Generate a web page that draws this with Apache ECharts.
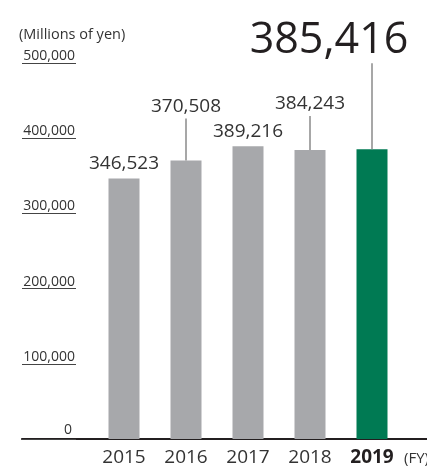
<!DOCTYPE html>
<html>
<head>
<meta charset="utf-8">
<script src="https://cdn.jsdelivr.net/npm/echarts@6/dist/echarts.min.js"></script>
<style>
html,body{margin:0;padding:0;background:#fff}
#main{width:427px;height:466px}
</style>
</head>
<body>
<div id="main"></div>
<script>
var years = ['2015', '2016', '2017', '2018', '2019'];
var sales = [346523, 370508, 389216, 384243, 385416];
var yMax = 500000, yStep = 100000;
var unitText = '(Millions of yen)';
var fyText = '(FY)';

// value label placement (px): lift above bar, leader line length, sideways shift
var lift = [5, 44, 5, 37, 87];
var leader = [0, 42, 0, 34, 86];
var shift = [0, 0, 0, 0, -43];
var font = 'Open Sans';

function fmt(v) {
	return Number(v).toLocaleString('en-US');
}

var myChart = echarts.init(document.getElementById('main'));

var last = years.length - 1;
var barData = sales.map(function(v, i) {
	var big = i == last;
	return {
		value: v,
		itemStyle: { color: big ? '#007a53' : '#a7a8ab' },
		label: {
			distance: lift[i],
			offset: [shift[i], 0],
			fontSize: big ? 43 : 19,
			lineHeight: big ? 43 : 19,
			color: big ? '#231f20' : '#333'
		}
	};
});

option = {
	animation: false,
	textStyle: { fontFamily: font },
	grid: [
		{ left: 22, right: 0, top: 63, bottom: 27, outerBoundsMode: 'none' },
		{ left: 93, right: 24, top: 63, bottom: 27, outerBoundsMode: 'none' }
	],
	xAxis: [{
		gridIndex: 0,
		type: 'value',
		min: 0,
		max: 1,
		axisLine: { show: true, lineStyle: { color: '#231f20', width: 2.2 } },
		axisTick: { show: false },
		axisLabel: { show: false },
		splitLine: { show: false }
	}, {
		gridIndex: 1,
		type: 'category',
		data: years,
		axisLine: { show: false },
		axisTick: { show: false },
		axisLabel: {
			interval: 0,
			fontSize: 19,
			color: '#333',
			margin: 9,
			formatter: function(v, i) {
				return i == last ? '{b|' + v + '}' : v;
			},
			rich: { b: { fontSize: 19, fontWeight: 'bold', color: '#231f20' } }
		},
		name: fyText,
		nameLocation: 'end',
		nameGap: 1,
		nameTextStyle: { fontSize: 15, color: '#333', verticalAlign: 'top', padding: [12, 0, 0, 0] }
	}],
	yAxis: [{
		gridIndex: 0,
		type: 'value',
		min: 0,
		max: yMax,
		interval: yStep,
		axisLine: { show: false },
		axisTick: { show: true, inside: true, length: 54, lineStyle: { color: '#444', width: 1.2 } },
		axisLabel: {
			inside: true,
			align: 'right',
			verticalAlign: 'bottom',
			margin: 53,
			fontSize: 14,
			lineHeight: 14,
			color: '#333',
			formatter: function(v) {
				return v == 0 ? '{z|0}' : fmt(v);
			},
			rich: { z: { fontSize: 14, lineHeight: 14, color: '#333', padding: [0, 3, 4, 0] } }
		},
		splitLine: { show: false },
		name: unitText,
		nameLocation: 'end',
		nameGap: 21,
		nameTextStyle: { fontSize: 14.5, color: '#333', align: 'left', padding: [0, 0, 0, -3] }
	}, {
		gridIndex: 1,
		type: 'value',
		min: 0,
		max: yMax,
		show: false
	}],
	series: [{
		type: 'bar',
		xAxisIndex: 1,
		yAxisIndex: 1,
		barWidth: '50%',
		data: barData,
		label: {
			show: true,
			position: 'top',
			formatter: function(p) { return fmt(p.value); }
		},
		emphasis: { disabled: true },
		z: 2
	}, {
		// leader lines from bar top up to the lifted labels
		type: 'custom',
		xAxisIndex: 1,
		yAxisIndex: 1,
		data: sales.map(function(v, i) { return [i, v]; }),
		silent: true,
		renderItem: function(params, api) {
			var i = params.dataIndex;
			if (!leader[i]) return null;
			var p = api.coord([api.value(0), api.value(1)]);
			return {
				type: 'line',
				shape: { x1: p[0], y1: p[1], x2: p[0], y2: p[1] - leader[i] },
				style: { stroke: '#8a8a8a', lineWidth: 1.5 }
			};
		},
		z: 3
	}]
};

myChart.setOption(option);
</script>
</body>
</html>
